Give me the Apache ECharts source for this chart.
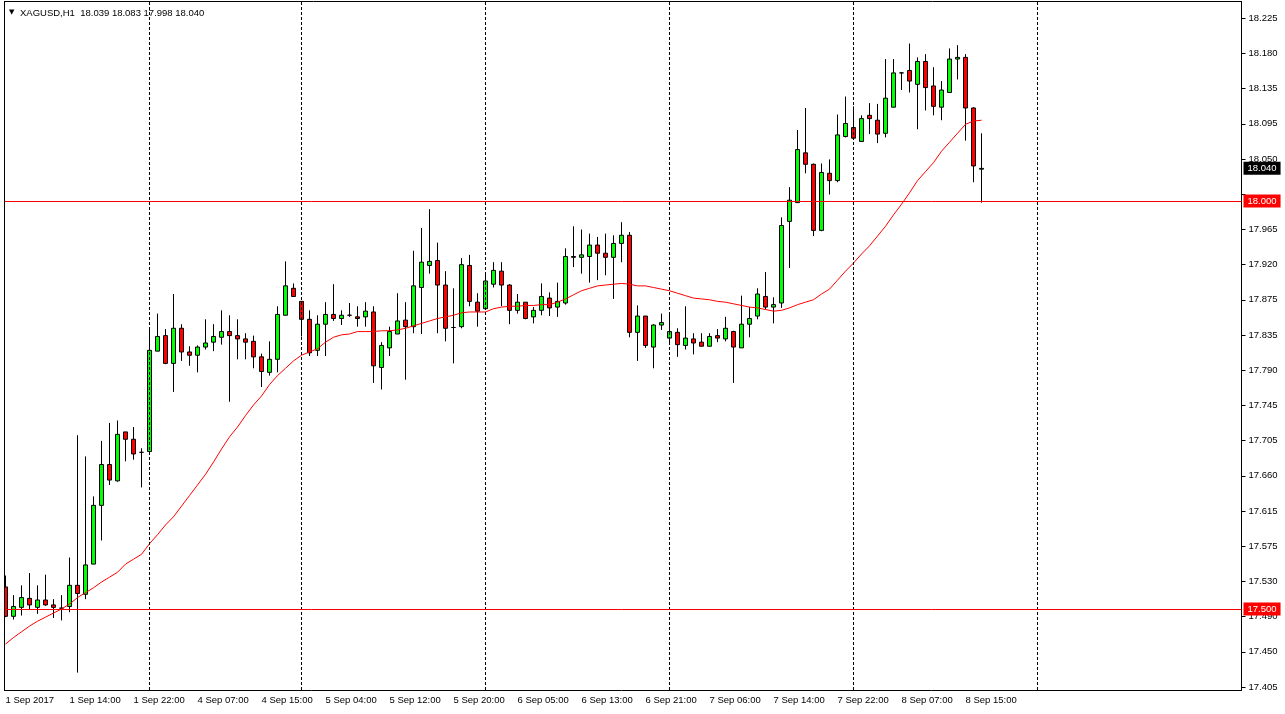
<!DOCTYPE html>
<html><head><meta charset="utf-8">
<script src="https://cdn.jsdelivr.net/npm/echarts@6/dist/echarts.min.js"></script>
<style>html,body{margin:0;padding:0;background:#fff}#c{width:1285px;height:714px}</style>
</head><body><div id="c"></div>
<script>
// ---- data (XAGUSD H1) ----
const opens = [17.527,17.491,17.502,17.513,17.502,17.511,17.505,17.501,17.503,17.529,
17.518,17.555,17.627,17.677,17.657,17.717,17.708,17.692,17.693,17.816,
17.835,17.801,17.844,17.815,17.811,17.821,17.827,17.833,17.840,17.835,
17.831,17.828,17.809,17.790,17.806,17.860,17.893,17.877,17.855,17.817,
17.849,17.861,17.856,17.860,17.858,17.858,17.864,17.796,17.820,17.837,
17.854,17.846,17.894,17.921,17.927,17.897,17.845,17.846,17.921,17.876,
17.868,17.898,17.914,17.897,17.866,17.876,17.858,17.866,17.881,17.870,
17.875,17.932,17.931,17.932,17.946,17.936,17.931,17.948,17.958,17.839,
17.859,17.821,17.848,17.832,17.839,17.823,17.831,17.827,17.822,17.835,
17.831,17.840,17.820,17.849,17.859,17.883,17.870,17.875,17.975,17.998,
18.059,18.045,17.964,18.034,18.025,18.079,18.090,18.073,18.105,18.099,
18.083,18.115,18.157,18.160,18.143,18.171,18.141,18.115,18.133,18.174,
18.176,18.114,18.039];
const highs = [17.541,17.517,17.529,17.544,17.529,17.542,17.512,17.517,17.563,17.713,
17.687,17.638,17.706,17.728,17.731,17.717,17.723,17.697,17.844,17.862,
17.843,17.886,17.849,17.822,17.823,17.855,17.849,17.866,17.860,17.855,
17.838,17.835,17.813,17.828,17.871,17.926,17.899,17.877,17.866,17.860,
17.876,17.898,17.866,17.875,17.871,17.876,17.871,17.827,17.846,17.887,
17.876,17.939,17.967,17.990,17.949,17.914,17.893,17.930,17.934,17.887,
17.911,17.925,17.925,17.898,17.886,17.876,17.870,17.899,17.888,17.900,
17.942,17.969,17.965,17.960,17.956,17.960,17.958,17.974,17.962,17.872,
17.859,17.849,17.862,17.861,17.844,17.871,17.838,17.838,17.838,17.843,
17.858,17.841,17.884,17.870,17.893,17.913,17.882,17.980,18.017,18.087,
18.114,18.046,18.046,18.051,18.106,18.128,18.116,18.105,18.120,18.119,
18.174,18.174,18.158,18.193,18.176,18.180,18.164,18.147,18.187,18.191,
18.180,18.115,18.083];
const lows = [17.490,17.487,17.492,17.500,17.494,17.504,17.489,17.486,17.496,17.422,
17.512,17.555,17.584,17.652,17.656,17.681,17.683,17.649,17.690,17.816,
17.800,17.766,17.804,17.798,17.790,17.818,17.816,17.824,17.754,17.806,
17.806,17.795,17.772,17.786,17.790,17.860,17.883,17.834,17.810,17.810,
17.810,17.853,17.848,17.858,17.846,17.846,17.777,17.769,17.810,17.837,
17.781,17.838,17.837,17.911,17.838,17.828,17.801,17.844,17.871,17.846,
17.868,17.894,17.871,17.849,17.862,17.855,17.850,17.860,17.859,17.858,
17.873,17.919,17.911,17.900,17.903,17.909,17.880,17.925,17.833,17.804,
17.820,17.795,17.842,17.827,17.809,17.818,17.812,17.822,17.822,17.827,
17.828,17.777,17.820,17.833,17.855,17.867,17.850,17.869,17.918,17.998,
18.034,17.957,17.963,18.008,18.023,18.078,18.075,18.073,18.082,18.071,
18.078,18.115,18.136,18.133,18.088,18.111,18.105,18.099,18.133,18.149,
18.074,18.023,17.998];
const closes = [17.491,17.503,17.514,17.505,17.511,17.505,17.502,17.501,17.529,17.519,
17.554,17.627,17.677,17.658,17.714,17.708,17.690,17.692,17.817,17.834,
17.801,17.844,17.815,17.811,17.821,17.826,17.834,17.840,17.835,17.831,
17.827,17.809,17.791,17.806,17.861,17.896,17.883,17.855,17.814,17.849,
17.861,17.856,17.860,17.860,17.856,17.865,17.798,17.823,17.840,17.853,
17.846,17.896,17.925,17.926,17.897,17.844,17.845,17.922,17.877,17.865,
17.902,17.915,17.897,17.866,17.876,17.856,17.866,17.883,17.869,17.877,
17.932,17.931,17.934,17.946,17.936,17.931,17.948,17.958,17.839,17.859,
17.823,17.848,17.851,17.840,17.824,17.832,17.826,17.822,17.834,17.832,
17.844,17.821,17.849,17.856,17.886,17.870,17.873,17.970,18.001,18.063,
18.045,17.964,18.035,18.025,18.081,18.095,18.077,18.101,18.101,18.082,
18.126,18.157,18.157,18.147,18.171,18.139,18.116,18.136,18.174,18.176,
18.114,18.043,18.040];
const maValues = [17.457,17.465,17.472,17.479,17.485,17.490,17.495,17.500,17.506,17.514,
17.520,17.526,17.533,17.539,17.545,17.555,17.561,17.567,17.580,17.591,
17.603,17.613,17.626,17.639,17.652,17.665,17.680,17.696,17.711,17.723,
17.737,17.750,17.761,17.775,17.786,17.795,17.804,17.811,17.815,17.819,
17.827,17.833,17.836,17.837,17.840,17.840,17.840,17.841,17.841,17.842,
17.844,17.847,17.850,17.853,17.856,17.858,17.860,17.863,17.864,17.864,
17.864,17.868,17.870,17.871,17.871,17.872,17.872,17.873,17.873,17.876,
17.880,17.885,17.890,17.893,17.896,17.897,17.898,17.899,17.898,17.896,
17.896,17.894,17.892,17.890,17.887,17.884,17.881,17.880,17.879,17.877,
17.876,17.874,17.872,17.870,17.869,17.867,17.865,17.866,17.869,17.873,
17.876,17.879,17.886,17.892,17.903,17.914,17.924,17.935,17.945,17.957,
17.969,17.983,17.996,18.010,18.025,18.036,18.047,18.061,18.072,18.083,
18.094,18.098,18.099];
const xTickLabels = ['1 Sep 2017','1 Sep 14:00','1 Sep 22:00','4 Sep 07:00','4 Sep 15:00',
'5 Sep 04:00','5 Sep 12:00','5 Sep 20:00','6 Sep 05:00','6 Sep 13:00','6 Sep 21:00',
'7 Sep 06:00','7 Sep 14:00','7 Sep 22:00','8 Sep 07:00','8 Sep 15:00'];
// the 6th tick label sits under the 18.000 price box in the reference
const yTickLabels = ['18.225','18.180','18.135','18.095','18.050','','17.965','17.920',
'17.875','17.835','17.790','17.745','17.705','17.660','17.615','17.575','17.530','17.490',
'17.450','17.405'];
const yTickTop = 18.2240, yTickBottom = 17.4044;
const dayLines = [18, 37, 60, 83, 106, 129];
const levelLines = [18.000, 17.500];
const lastPrice = 18.040;
const headerText = 'XAGUSD,H1  18.039 18.083 17.998 18.040';
const totalSlots = 155;

// ---- chart ----
const FONT = 'Liberation Sans';
const categories = Array.from({length: totalSlots}, (_, i) => String(i));
const yStep = (yTickTop - yTickBottom) / (yTickLabels.length - 1);
const yTickValues = yTickLabels.map((_, k) => yTickTop - k * yStep);
const candleData = opens.map((o, i) => [o, closes[i], lows[i], highs[i]]);
const emptySeries = categories.map(() => null);

const chart = echarts.init(document.getElementById('c'), null, {renderer: 'canvas'});
chart.setOption({
  animation: false,
  backgroundColor: '#fff',
  grid: {left: 1.5, right: 43.5, top: 2, bottom: 24, containLabel: false},
  xAxis: {
    type: 'category', data: categories, boundaryGap: true,
    axisLine: {show: true, lineStyle: {color: '#000', width: 1}},
    axisTick: {show: false},
    splitLine: {show: false},
    axisLabel: {
      show: true, color: '#000', fontFamily: FONT, fontSize: 9.5, align: 'left', margin: 5,
      interval: (i) => i % 8 === 0 && i / 8 < xTickLabels.length,
      formatter: (v, i) => xTickLabels[Math.round(Number(v) / 8)] || ''
    }
  },
  yAxis: {
    type: 'value', position: 'right', min: 17.4007, max: 18.2439, scale: true,
    axisLine: {show: true, lineStyle: {color: '#000', width: 1}},
    axisTick: {show: true, length: 4, lineStyle: {color: '#000'}, customValues: yTickValues},
    splitLine: {show: false},
    axisLabel: {
      show: true, color: '#000', fontFamily: FONT, fontSize: 9.5, margin: 7,
      customValues: yTickValues,
      formatter: (v) => yTickLabels[Math.round((yTickTop - v) / yStep)]
    }
  },
  graphic: [
    {type: 'rect', shape: {x: 0, y: 0, width: 4, height: 714}, style: {fill: '#fff'}, z: 100},
    {type: 'line', shape: {x1: 4.5, y1: 2, x2: 4.5, y2: 690}, style: {stroke: '#000', lineWidth: 1}, z: 101},
    {type: 'line', shape: {x1: 4, y1: 1.5, x2: 1242, y2: 1.5}, style: {stroke: '#000', lineWidth: 1}, z: 101},
    {type: 'text', x: 9, y: 9, style: {text: '\u25BC', fontSize: 7, fill: '#000', fontFamily: 'DejaVu Sans'}, z: 101},
    {type: 'text', x: 20, y: 8, style: {text: headerText, fontSize: 9.5, fill: '#000', fontFamily: FONT}, z: 101}
  ],
  series: [
    {
      type: 'line', data: emptySeries, silent: true, z: 1, showSymbol: false,
      markLine: {
        silent: true, symbol: ['none', 'none'], animation: false,
        label: {show: false},
        lineStyle: {color: '#000', type: [3, 2], width: 1},
        data: dayLines.map(i => ({xAxis: i}))
      }
    },
    {
      type: 'candlestick', data: candleData, z: 3, barWidth: 4,
      itemStyle: {color: '#00ff00', color0: '#ff0000', borderColor: '#000', borderColor0: '#000', borderWidth: 1}
    },
    {
      type: 'line', data: maValues, z: 4, showSymbol: false, symbol: 'none',
      lineStyle: {color: '#ff0000', width: 1}
    },
    {
      type: 'line', data: emptySeries, silent: true, z: 5, showSymbol: false,
      markLine: {
        silent: true, symbol: ['none', 'none'], animation: false,
        lineStyle: {color: '#ff0000', type: 'solid', width: 1},
        label: {show: true, position: 'end', distance: 2, color: '#fff', backgroundColor: '#ff0000',
                fontFamily: FONT, fontSize: 9.5, padding: [2, 4, 1, 4], formatter: p => Number(p.value).toFixed(3)},
        data: [
          ...levelLines.map(v => ({yAxis: v})),
          {yAxis: lastPrice, lineStyle: {color: 'rgba(0,0,0,0)', width: 1},
           label: {show: true, backgroundColor: '#000', color: '#fff'}}
        ]
      }
    }
  ]
});
</script></body></html>
